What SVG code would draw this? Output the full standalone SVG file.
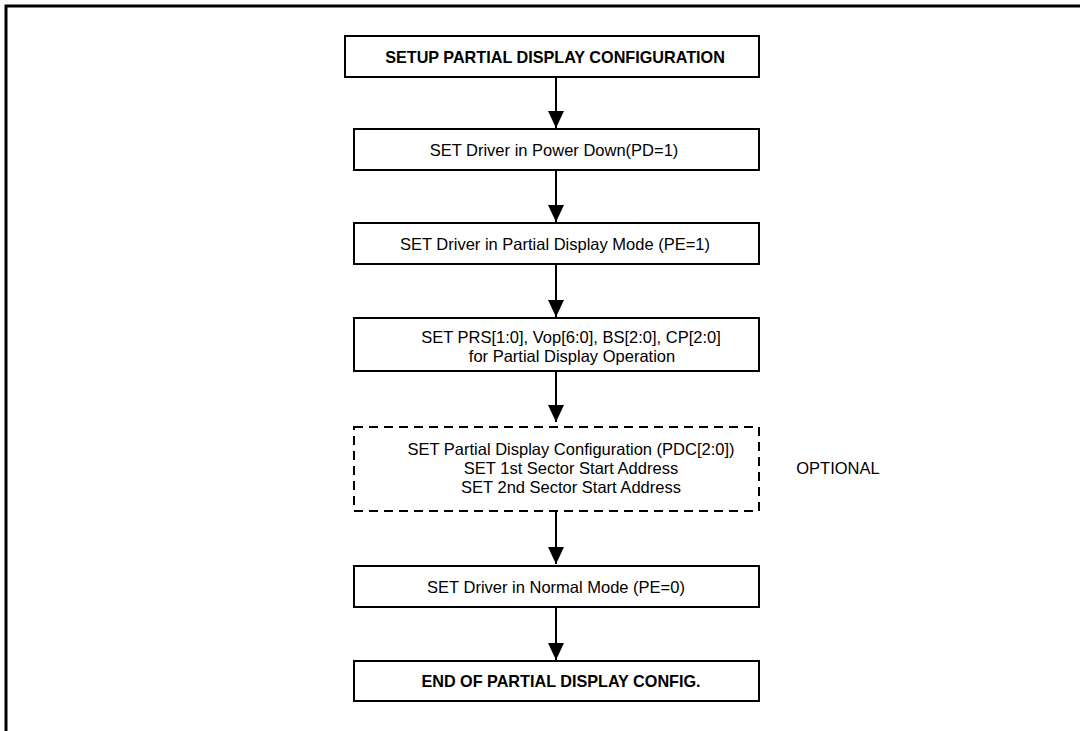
<svg xmlns="http://www.w3.org/2000/svg" width="1080" height="731" viewBox="0 0 1080 731">
<defs>
<style>
.box{fill:#fff;stroke:#000;stroke-width:2}
.dash{fill:#fff;stroke:#000;stroke-width:2;stroke-dasharray:9 6}
.t{font-family:"Liberation Sans",Arial,sans-serif;font-size:16.5px;fill:#000;text-anchor:middle;dominant-baseline:central}
.b{font-weight:bold;font-size:16.2px}
.c{stroke:#000;stroke-width:2;fill:none;marker-end:url(#ah)}
</style>
<marker id="ah" viewBox="0 0 17 16" refX="17" refY="8" markerWidth="17" markerHeight="16" markerUnits="userSpaceOnUse" orient="auto">
<path d="M0,0 L17,8 L0,16 Z" fill="#000"/>
</marker>
</defs>
<rect width="1080" height="731" fill="#fff"/>
<path d="M6,731 V6 H1080" fill="none" stroke="#000" stroke-width="3"/>
<g id="connectors">
<line class="c" x1="556" y1="77" x2="556" y2="128"/>
<line class="c" x1="556" y1="170" x2="556" y2="222"/>
<line class="c" x1="556" y1="264" x2="556" y2="317"/>
<line class="c" x1="556" y1="371" x2="556" y2="422"/>
<line class="c" x1="556" y1="511" x2="556" y2="564"/>
<line class="c" x1="556" y1="607" x2="556" y2="660"/>
</g>
<g id="n1">
<rect class="box" x="345" y="36" width="414" height="41"/>
<text class="t b" x="555" y="56.5">SETUP PARTIAL DISPLAY CONFIGURATION</text>
</g>
<g id="n2">
<rect class="box" x="354" y="129" width="405" height="41"/>
<text class="t" x="554" y="150">SET Driver in Power Down(PD=1)</text>
</g>
<g id="n3">
<rect class="box" x="354" y="223" width="405" height="41"/>
<text class="t" x="555" y="244">SET Driver in Partial Display Mode (PE=1)</text>
</g>
<g id="n4">
<rect class="box" x="354" y="318" width="405" height="53"/>
<text class="t" x="571" y="337">SET PRS[1:0], Vop[6:0], BS[2:0], CP[2:0]</text>
<text class="t" x="572" y="356">for Partial Display Operation</text>
</g>
<g id="n5">
<rect class="dash" x="354" y="427" width="405" height="84"/>
<text class="t" x="571" y="449">SET Partial Display Configuration (PDC[2:0])</text>
<text class="t" x="571" y="468">SET 1st Sector Start Address</text>
<text class="t" x="571" y="487">SET 2nd Sector Start Address</text>
</g>
<g id="optional">
<text class="t" x="838" y="468">OPTIONAL</text>
</g>
<g id="n6">
<rect class="box" x="354" y="566" width="405" height="41"/>
<text class="t" x="556" y="587">SET Driver in Normal Mode (PE=0)</text>
</g>
<g id="n7">
<rect class="box" x="354" y="661" width="405" height="40"/>
<text class="t b" x="561" y="681">END OF PARTIAL DISPLAY CONFIG.</text>
</g>
</svg>
